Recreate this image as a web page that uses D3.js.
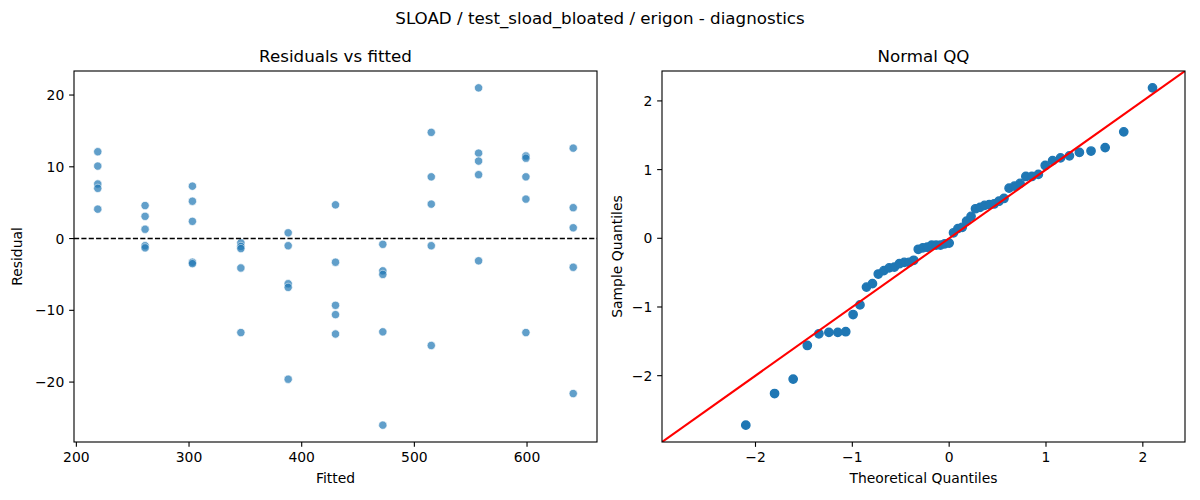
<!DOCTYPE html>
<html>
<head>
<meta charset="utf-8">
<script src="https://cdn.jsdelivr.net/npm/d3@7"></script>
<style>
  html, body { margin: 0; padding: 0; background: #fff; }
  svg { display: block; font-family: "DejaVu Sans", sans-serif; }
</style>
</head>
<body>
<svg id="chart" width="1200" height="500"></svg>
<script>
// ---------- data ----------
const suptitle = "SLOAD / test_sload_bloated / erigon - diagnostics";
const leftTitle = "Residuals vs fitted";
const rightTitle = "Normal QQ";

const fittedLevels = [219, 261, 303, 346, 388, 430, 472, 515, 557, 599, 641];
const residualsByLevel = [
  [12.1, 10.1, 7.6, 7.0, 4.1],
  [4.6, 3.1, 1.3, -1.0, -1.3],
  [7.3, 5.2, 2.4, -3.3, -3.5],
  [-0.6, -1.1, -1.4, -4.1, -13.1],
  [0.8, -1.0, -6.3, -6.8, -19.6],
  [4.7, -3.3, -9.3, -10.6, -13.3],
  [-0.8, -4.5, -5.0, -13.0, -26.0],
  [14.8, 8.6, 4.8, -1.0, -14.9],
  [21.0, 11.9, 10.8, 8.9, -3.1],
  [11.5, 11.2, 8.6, 5.5, -13.1],
  [12.6, 4.3, 1.5, -4.0, -21.6]
];
const leftXTicks = [200, 300, 400, 500, 600];
const leftYTicks = [-20, -10, 0, 10, 20];

const theoreticalQ = [
  -2.100, -1.803, -1.611, -1.465, -1.345, -1.242, -1.150, -1.068, -0.992, -0.921,
  -0.854, -0.792, -0.732, -0.674, -0.619, -0.566, -0.514, -0.464, -0.414, -0.366,
  -0.319, -0.272, -0.226, -0.180, -0.135, -0.090, -0.045, 0.000, 0.045, 0.090,
  0.135, 0.180, 0.226, 0.272, 0.319, 0.366, 0.414, 0.464, 0.514, 0.566,
  0.619, 0.674, 0.732, 0.792, 0.854, 0.921, 0.992, 1.068, 1.150, 1.242,
  1.345, 1.465, 1.611, 1.803, 2.100
];
const sampleQ = [
  -2.72, -2.26, -2.05, -1.56, -1.39, -1.37, -1.37, -1.36, -1.11, -0.97,
  -0.71, -0.66, -0.52, -0.47, -0.43, -0.42, -0.37, -0.35, -0.35, -0.32,
  -0.16, -0.14, -0.13, -0.10, -0.10, -0.10, -0.08, -0.07, 0.08, 0.14,
  0.16, 0.25, 0.32, 0.43, 0.45, 0.48, 0.49, 0.50, 0.54, 0.58,
  0.73, 0.76, 0.80, 0.90, 0.90, 0.93, 1.06, 1.13, 1.17, 1.20,
  1.25, 1.27, 1.32, 1.55, 2.19
];
const rightTicks = [-2, -1, 0, 1, 2];

// ---------- layout ----------
const svg = d3.select("#chart");
const fontTick = 13.9, fontTitle = 16.7;
const yTop = 71, yBottom = 442;
const leftBox = {x0: 74, x1: 597};
const rightBox = {x0: 662, x1: 1185};
const tickLen = 4.86, tickPad = 4.86;
const fmt = v => (v < 0 ? "\u2212" + Math.abs(v) : String(v));

function margin(ext) {
  const r = ext[1] - ext[0];
  return [ext[0] - 0.05 * r, ext[1] + 0.05 * r];
}

svg.append("text")
  .attr("x", 600).attr("y", 24)
  .attr("text-anchor", "middle")
  .attr("font-size", fontTitle)
  .text(suptitle);

function drawAxes(g, box, xScale, yScale, xTicks, yTicks, title, xLabel, yLabel, yLabelX) {
  const xt = g.append("g");
  xTicks.forEach(t => {
    const x = xScale(t);
    xt.append("line").attr("x1", x).attr("x2", x).attr("y1", yBottom).attr("y2", yBottom + tickLen)
      .attr("stroke", "#000").attr("stroke-width", 1.11);
    xt.append("text").attr("x", x).attr("y", yBottom + tickLen + tickPad + 10.6)
      .attr("text-anchor", "middle").attr("font-size", fontTick).text(fmt(t));
  });
  const yt = g.append("g");
  yTicks.forEach(t => {
    const y = yScale(t);
    yt.append("line").attr("x1", box.x0 - tickLen).attr("x2", box.x0).attr("y1", y).attr("y2", y)
      .attr("stroke", "#000").attr("stroke-width", 1.11);
    yt.append("text").attr("x", box.x0 - tickLen - tickPad).attr("y", y + 5)
      .attr("text-anchor", "end").attr("font-size", fontTick).text(fmt(t));
  });
  g.append("rect").attr("x", box.x0).attr("y", yTop)
    .attr("width", box.x1 - box.x0).attr("height", yBottom - yTop)
    .attr("fill", "none").attr("stroke", "#000").attr("stroke-width", 1.11);
  g.append("text").attr("x", (box.x0 + box.x1) / 2).attr("y", 62)
    .attr("text-anchor", "middle").attr("font-size", fontTitle).text(title);
  g.append("text").attr("x", (box.x0 + box.x1) / 2).attr("y", 483)
    .attr("text-anchor", "middle").attr("font-size", fontTick).text(xLabel);
  g.append("text")
    .attr("transform", `translate(${yLabelX},${(yTop + yBottom) / 2}) rotate(-90)`)
    .attr("text-anchor", "middle").attr("font-size", fontTick).text(yLabel);
}

// ---------- left panel ----------
const leftPoints = [];
fittedLevels.forEach((f, i) => residualsByLevel[i].forEach(r => leftPoints.push({f, r})));

const xL = d3.scaleLinear()
  .domain(margin(d3.extent(leftPoints, d => d.f)))
  .range([leftBox.x0, leftBox.x1]);
const yL = d3.scaleLinear()
  .domain(margin(d3.extent(leftPoints, d => d.r)))
  .range([yBottom, yTop]);

const defs = svg.append("defs");
defs.append("clipPath").attr("id", "clipL").append("rect")
  .attr("x", leftBox.x0).attr("y", yTop).attr("width", leftBox.x1 - leftBox.x0).attr("height", yBottom - yTop);
defs.append("clipPath").attr("id", "clipR").append("rect")
  .attr("x", rightBox.x0).attr("y", yTop).attr("width", rightBox.x1 - rightBox.x0).attr("height", yBottom - yTop);

const gL = svg.append("g");
const plotL = gL.append("g").attr("clip-path", "url(#clipL)");
plotL.selectAll("circle").data(leftPoints).join("circle")
  .attr("cx", d => xL(d.f)).attr("cy", d => yL(d.r)).attr("r", 4.17)
  .attr("fill", "#1f77b4").attr("stroke", "#fff").attr("stroke-width", 0.7)
  .attr("opacity", 0.7);
plotL.append("line")
  .attr("x1", leftBox.x0).attr("x2", leftBox.x1).attr("y1", yL(0)).attr("y2", yL(0))
  .attr("stroke", "#000").attr("stroke-width", 1.39).attr("stroke-dasharray", "5.14,2.22");
drawAxes(gL, leftBox, xL, yL, leftXTicks, leftYTicks, leftTitle, "Fitted", "Residual", 22);

// ---------- right panel ----------
const yExt = margin(d3.extent(sampleQ));
const xExt = margin(d3.extent(theoreticalQ));
const lims = [Math.min(xExt[0], yExt[0]), Math.max(xExt[1], yExt[1])];
const xR = d3.scaleLinear().domain(lims).range([rightBox.x0, rightBox.x1]);
const yR = d3.scaleLinear().domain(lims).range([yBottom, yTop]);

const gR = svg.append("g");
const plotR = gR.append("g").attr("clip-path", "url(#clipR)");
const qq = theoreticalQ.map((t, i) => ({t, s: sampleQ[i]}));
plotR.selectAll("circle").data(qq).join("circle")
  .attr("cx", d => xR(d.t)).attr("cy", d => yR(d.s)).attr("r", 4.17)
  .attr("fill", "#1f77b4").attr("stroke", "#1f77b4").attr("stroke-width", 1.39);
plotR.append("line")
  .attr("x1", xR(lims[0])).attr("y1", yR(lims[0]))
  .attr("x2", xR(lims[1])).attr("y2", yR(lims[1]))
  .attr("stroke", "#ff0000").attr("stroke-width", 2.08);
drawAxes(gR, rightBox, xR, yR, rightTicks, rightTicks, rightTitle, "Theoretical Quantiles", "Sample Quantiles", 622);
</script>
</body>
</html>
